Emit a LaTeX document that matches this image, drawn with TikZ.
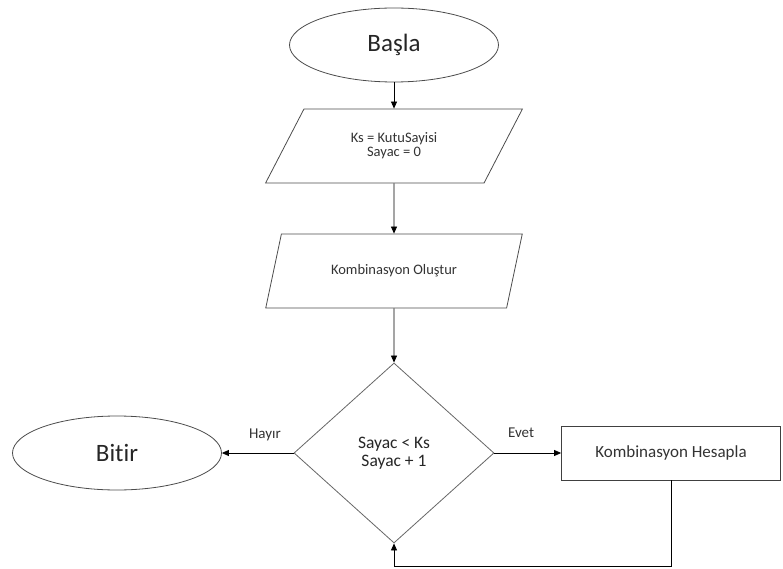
\documentclass[tikz,border=0pt]{standalone}
\usepackage{fontspec}
\setmainfont{Carlito}[Ligatures=NoCommon]
\usetikzlibrary{arrows.meta, shapes.geometric}

\begin{document}
\begin{tikzpicture}[>={Triangle[length=7pt,width=6pt]},auto,node distance=1cm,
  line width=0.8pt,
  term/.style={ellipse,draw=black!70,minimum width=209pt,minimum height=74pt,inner sep=0pt,text=black!85,font=\fontsize{25}{30}\selectfont},
  io/.style={trapezium,trapezium left angle=55,trapezium right angle=125,trapezium stretches=true,draw=black!70,minimum width=257pt,minimum height=74pt,inner sep=0pt,align=center,text=black!80,font=\fontsize{14.5}{14}\selectfont},
  cond/.style={diamond,draw=black!60,minimum width=200pt,minimum height=180pt,inner sep=0pt,align=center,text=black!85,font=\fontsize{17.5}{18}\selectfont},
  proc/.style={rectangle,draw=black!75,minimum width=219pt,minimum height=54pt,inner sep=0pt,text=black!80,font=\fontsize{17}{20}\selectfont}]
  \useasboundingbox (0,0) rectangle (783pt,-569pt);
  \node[term] (start) at (394pt,-45pt) {Başla};
  \node[io,node distance=101pt] (init) [below of=start] {Ks = KutuSayisi\\Sayac = 0};
  \node[io,node distance=125pt] (gen) [below of=init] {Kombinasyon Oluştur};
  \node[cond,node distance=182pt] (check) [below of=gen] {Sayac < Ks\\Sayac + 1};

  % sides
  \node[term,node distance=277pt] (stop) [left of=check] {Bitir};
  \node[proc,node distance=277pt] (calc) [right of=check] {Kombinasyon Hesapla};
  \coordinate (loop) at ([yshift=-86pt]calc.south);

  \path[->,every node/.style={font=\fontsize{15}{18}\selectfont,text=black!80}]
    (start) edge (init)
    (init) edge (gen)
    (gen) edge (check)
    (check) edge node[above=8pt,pos=0.4] {Hayır} (stop)
            edge node[above=12pt,pos=0.4] {Evet} (calc);
  \draw[->] (calc.south) -- (loop) -| (check.south);
\end{tikzpicture}
\end{document}
